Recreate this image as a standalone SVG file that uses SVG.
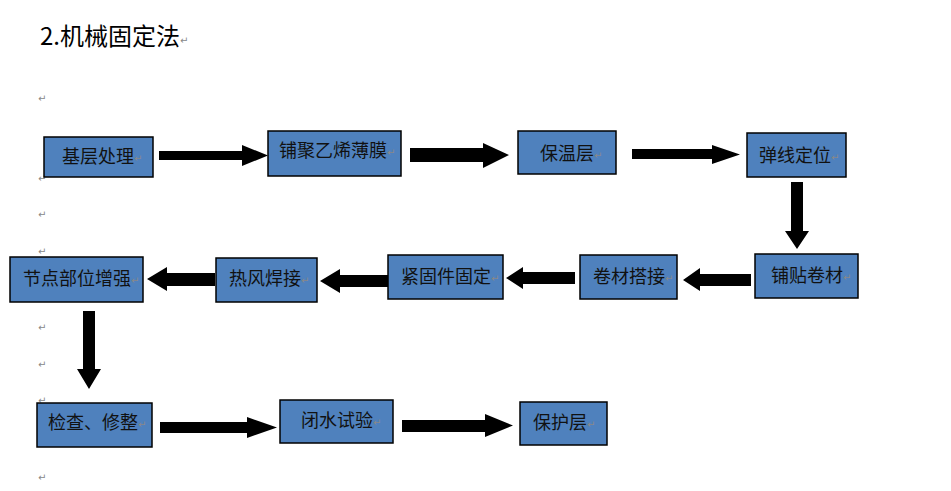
<svg xmlns="http://www.w3.org/2000/svg" width="951" height="491" viewBox="0 0 951 491">
<style>
.box{fill:#4F81BD;stroke:#000;stroke-width:1.5}
.lbl{font-family:"Microsoft YaHei","Noto Sans CJK SC","Noto Sans",sans-serif;font-size:18px;fill:#111}
.pm{font-family:"DejaVu Sans","Noto Sans CJK SC",sans-serif;font-size:10px;fill:#888}
.arr{fill:#000}
.title{font-family:"Microsoft YaHei","Noto Sans CJK SC","Noto Sans",sans-serif;font-size:24px;fill:#000}
</style>
<rect width="951" height="491" fill="#fff"/>
<text class="title" x="40" y="45">2.机械固定法</text>
<text class="pm" x="180" y="44">↵</text>
<g id="marks">
<text class="pm" x="38" y="102">↵</text>
<text class="pm" x="38" y="182">↵</text>
<text class="pm" x="38" y="218">↵</text>
<text class="pm" x="38" y="255">↵</text>
<text class="pm" x="38" y="331">↵</text>
<text class="pm" x="38" y="368">↵</text>
<text class="pm" x="38" y="404">↵</text>
<text class="pm" x="38" y="481">↵</text>
</g>
<g id="connectors">
<polygon class="arr" points="159,151 242,151 242,145 268,155.5 242,166 242,160 159,160"/>
<polygon class="arr" points="410,148 483,148 483,143 509,155 483,168 483,162 410,162"/>
<polygon class="arr" points="632,149 712,149 712,145 740,154.5 712,164 712,159 632,159"/>
<polygon class="arr" points="791,182 803,182 803,231 809,231 797,249 785,231 791,231"/>
<polygon class="arr" points="751,274 700,274 700,268 683,280 700,291 700,286 751,286"/>
<polygon class="arr" points="575,272 523,272 523,267 506,278 523,289 523,284 575,284"/>
<polygon class="arr" points="388,275 340,275 340,269 320,281 340,293 340,287 388,287"/>
<polygon class="arr" points="215,273 167,273 167,267 147,279 167,291 167,286 215,286"/>
<polygon class="arr" points="83,311 95,311 95,369 101,369 89,389 77,369 83,369"/>
<polygon class="arr" points="160,422 247,422 247,417 277,427.5 247,438 247,433 160,433"/>
<polygon class="arr" points="402,420 485,420 485,414 513,425.5 485,437 485,432 402,432"/>
</g>
<g id="n1"><rect class="box" x="44" y="137" width="109" height="40"/><text class="lbl" x="62" y="163">基层处理</text><text class="pm" x="134" y="162">↵</text></g>
<g id="n2"><rect class="box" x="268" y="131" width="133" height="45"/><text class="lbl" x="279" y="157">铺聚乙烯薄膜</text><text class="pm" x="387" y="156">↵</text></g>
<g id="n3"><rect class="box" x="518" y="131" width="98" height="43"/><text class="lbl" x="540" y="160">保温层</text><text class="pm" x="594" y="159">↵</text></g>
<g id="n4"><rect class="box" x="747" y="133" width="99" height="44"/><text class="lbl" x="759" y="162">弹线定位</text><text class="pm" x="831" y="161">↵</text></g>
<g id="n5"><rect class="box" x="755" y="254" width="103" height="44"/><text class="lbl" x="771" y="282">铺贴卷材</text><text class="pm" x="843" y="281">↵</text></g>
<g id="n6"><rect class="box" x="580" y="255" width="97" height="44"/><text class="lbl" x="593" y="283">卷材搭接</text><text class="pm" x="665" y="282">↵</text></g>
<g id="n7"><rect class="box" x="388" y="255" width="115" height="44"/><text class="lbl" x="401" y="283">紧固件固定</text><text class="pm" x="491" y="282">↵</text></g>
<g id="n8"><rect class="box" x="216" y="258" width="101" height="44"/><text class="lbl" x="229" y="285">热风焊接</text><text class="pm" x="301" y="284">↵</text></g>
<g id="n9"><rect class="box" x="10" y="257" width="133" height="45"/><text class="lbl" x="23" y="285">节点部位增强</text><text class="pm" x="131" y="284">↵</text></g>
<g id="n10"><rect class="box" x="37" y="403" width="115" height="44"/><text class="lbl" x="48" y="429">检查、修整</text><text class="pm" x="138" y="428">↵</text></g>
<g id="n11"><rect class="box" x="280" y="400" width="113" height="43"/><text class="lbl" x="301" y="427">闭水试验</text><text class="pm" x="373" y="426">↵</text></g>
<g id="n12"><rect class="box" x="520" y="402" width="87" height="43"/><text class="lbl" x="533" y="429">保护层</text><text class="pm" x="587" y="428">↵</text></g>
</svg>
